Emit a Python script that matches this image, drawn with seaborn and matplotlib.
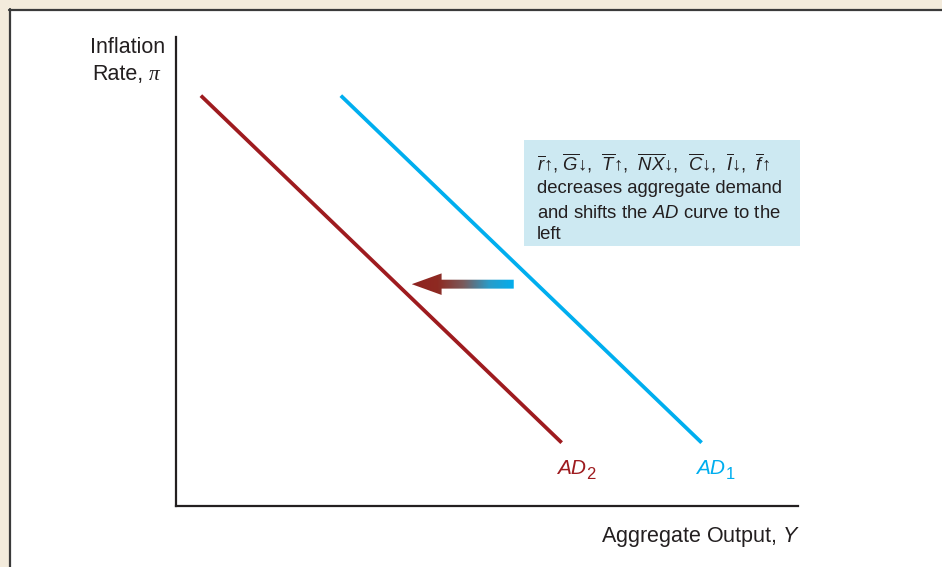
import numpy as np
import pandas as pd
import matplotlib
matplotlib.use("Agg")
import matplotlib.pyplot as plt
from matplotlib.patches import Rectangle, FancyArrow
from matplotlib.colors import LinearSegmentedColormap
import seaborn as sns

# AD curves (endpoints, in arbitrary output / inflation units)
ad1_x = [2.65, 8.45]
ad1_y = [8.75, 1.35]
ad2_x = [0.4, 6.2]
ad2_y = [8.75, 1.35]

# shift arrow: from (tail) -> to (tip)
shift_from = 5.43
shift_to = 3.79
shift_level = 4.73

box_lines = [
    "$\\overline{r}$\u2191, $\\overline{G}$\u2193,  $\\overline{T}$\u2191,  "
    "$\\overline{NX}$\u2193,  $\\overline{C}$\u2193,  $\\overline{I}$\u2193,  $\\overline{f}$\u2191",
    "decreases aggregate demand",
    r"and shifts the $AD$ curve to the",
    "left",
]

RED = "#9e1b1f"
BLUE = "#00aeef"
INK = "#231f20"

sns.set_theme(style="white")
plt.rcParams["font.family"] = ["Liberation Sans", "DejaVu Sans"]
plt.rcParams["mathtext.fontset"] = "custom"
plt.rcParams["mathtext.rm"] = "Liberation Sans"
plt.rcParams["mathtext.it"] = "Liberation Sans:italic"

W, H = 942, 567
fig = plt.figure(figsize=(W / 100, H / 100), dpi=100)

def fx(px):
    return px / W

def fy(py):
    return 1 - py / H

# frame: beige band on top/left with a dark rule
fig.patches.append(Rectangle((0, fy(9)), 1, 9 / H, transform=fig.transFigure,
                             facecolor="#f3ebdc", edgecolor="none"))
fig.patches.append(Rectangle((0, 0), 9 / W, 1, transform=fig.transFigure,
                             facecolor="#f3ebdc", edgecolor="none"))
fig.add_artist(plt.Line2D([fx(9), 1], [fy(10), fy(10)], transform=fig.transFigure,
                          color="#3a3a3a", lw=1.6))
fig.add_artist(plt.Line2D([fx(10), fx(10)], [fy(9), 0], transform=fig.transFigure,
                          color="#3a3a3a", lw=1.6))

ax = fig.add_axes([fx(176), fy(506), (798 - 176) / W, (506 - 37) / H])

df = pd.DataFrame({
    "Y": ad1_x + ad2_x,
    "pi": ad1_y + ad2_y,
    "curve": ["AD1"] * len(ad1_x) + ["AD2"] * len(ad2_x),
})
sns.lineplot(data=df, x="Y", y="pi", hue="curve", palette={"AD1": BLUE, "AD2": RED},
             linewidth=2.7, legend=False, ax=ax, solid_capstyle="butt")

# gradient arrow
hw = 0.46
arrow = FancyArrow(shift_from, shift_level, shift_to - shift_from, 0, width=0.19,
                   head_width=hw, head_length=0.48, length_includes_head=True,
                   facecolor="none", edgecolor="none")
ax.add_patch(arrow)
cmap = LinearSegmentedColormap.from_list("shift", ["#8e2320", "#8e2a22", "#7a5a5c", "#2a9cc8", BLUE])
grad = np.linspace(0, 1, 256).reshape(1, -1)
img = ax.imshow(grad, cmap=cmap, extent=[shift_to, shift_from, shift_level - hw, shift_level + hw],
                aspect="auto", zorder=3)
img.set_clip_path(arrow)

# info box
ax.add_patch(Rectangle((5.595, 5.544), 10.03 - 5.595, 7.804 - 5.544, facecolor="#cde9f2",
                       edgecolor="none", clip_on=False, zorder=1))
for line, yb in zip(box_lines, [7.164, 6.674, 6.15, 5.69]):
    ax.text(5.80, yb, line, fontsize=13.3, color=INK, va="baseline", ha="left", zorder=4)

# curve labels: italic name plus a lowered subscript
for name, sub, x, col in [("AD", "2", 6.12, RED), ("AD", "1", 8.36, BLUE)]:
    ax.text(x, 0.68, name, color=col, fontsize=15, style="italic", va="baseline")
    ax.annotate(sub, xy=(x, 0.68), xytext=(21.5, -3.5), textcoords="offset points",
                color=col, fontsize=12, va="baseline")

ax.set_xlim(0, 10)
ax.set_ylim(0, 10)
ax.set_xticks([])
ax.set_yticks([])
ax.set_xlabel("")
ax.set_ylabel("")
for side in ["top", "right"]:
    ax.spines[side].set_visible(False)
for side in ["left", "bottom"]:
    ax.spines[side].set_color(INK)
    ax.spines[side].set_linewidth(1.6)

# axis titles
fig.text(fx(165), fy(53), "Inflation", fontsize=15.5, color=INK, ha="right", va="baseline")
fig.text(fx(143), fy(80), "Rate,", fontsize=15.5, color=INK, ha="right", va="baseline")
fig.text(fx(149), fy(80), "\u03c0", fontsize=15.5, color=INK, ha="left", va="baseline",
         family="Liberation Serif", style="italic")
fig.text(fx(800), fy(542), r"Aggregate Output, $Y$", fontsize=15.5, color=INK,
         ha="right", va="baseline")

fig.savefig("out.png", dpi=100)
